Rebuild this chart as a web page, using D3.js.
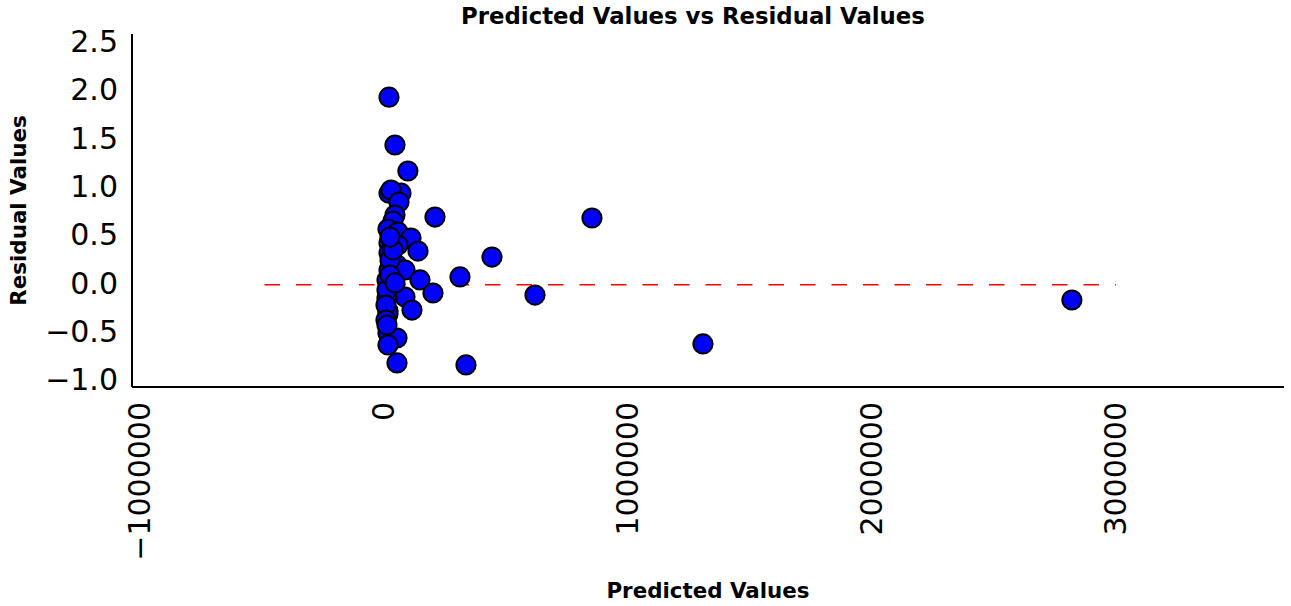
<!DOCTYPE html>
<html>
<head>
<meta charset="utf-8">
<script src="https://cdn.jsdelivr.net/npm/d3@7"></script>
<style>
  html, body { margin: 0; padding: 0; background: #fff; }
  svg { display: block; font-family: "DejaVu Sans", sans-serif; }
</style>
</head>
<body>
<svg id="chart" width="1291" height="606"></svg>
<script>
// ---- data ----
const predicted = [
  20500, 45000, 98000, 20500, 69700, 28700, 61500, 209000, 45000, 36900,
  16400, 57400, 110700, 20500, 57400, 139300, 20500, 53300, 20500, 86100,
  12300, 147500, 311500, 32800, 86100, 200800, 12300, 114800, 16400, 16400,
  16400, 53300, 16400, 53300, 336100, 442600, 618900, 852500, 1307400, 2819700,
  24600, 12300, 8200, 24600, 45000, 36900, 24600, 8200, 12300
];
const residual = [
  1.94, 1.445, 1.176, 0.947, 0.947, 0.979, 0.855, 0.700, 0.721, 0.659,
  0.576, 0.545, 0.483, 0.431, 0.410, 0.348, 0.328, 0.204, 0.152, 0.152,
  0.049, 0.049, 0.080, -0.034, -0.127, -0.086, -0.138, -0.262, -0.272, -0.303,
  -0.499, -0.551, -0.623, -0.809, -0.830, 0.286, -0.107, 0.690, -0.613, -0.158,
  0.255, -0.055, -0.210, 0.100, 0.018, 0.359, 0.493, -0.365, -0.417
];
const xTicks = [-1000000, 0, 1000000, 2000000, 3000000];
const yTicks = [-1.0, -0.5, 0.0, 0.5, 1.0, 1.5, 2.0, 2.5];
const refLine = { y: 0, x0: -490000, x1: 3000000 };
const titleText = "Predicted Values vs Residual Values";
const xLabelText = "Predicted Values";
const yLabelText = "Residual Values";

// ---- layout ----
const svg = d3.select("#chart");
const mLeft = 132, mRight = 1284, mTop = 34, mBottom = 387;

const x = d3.scaleLinear().domain([-1033000, 3689000]).range([mLeft, mRight]);
const y = d3.scaleLinear().domain([-1.058, 2.593]).range([mBottom, mTop]);

const fmtMinus = s => s.replace("-", "\u2212");

// axes (spines only, no tick marks)
const xAxis = d3.axisBottom(x).tickValues(xTicks).tickSize(0).tickPadding(0)
  .tickFormat(d => fmtMinus(d3.format("d")(d)));
const yAxis = d3.axisLeft(y).tickValues(yTicks).tickSize(0).tickPadding(0)
  .tickFormat(d => fmtMinus(d3.format(".1f")(d)));

const gx = svg.append("g").attr("transform", `translate(0,${mBottom})`).call(xAxis);
gx.select(".domain").attr("stroke", "#000").attr("stroke-width", 2)
  .attr("d", `M${mLeft},0H${mRight}`);
gx.selectAll(".tick text")
  .attr("font-size", 30).attr("fill", "#000")
  .attr("font-family", "DejaVu Sans")
  .attr("text-anchor", "end")
  .attr("dominant-baseline", "central")
  .attr("dy", null).attr("y", null)
  .attr("transform", "translate(-1,15) rotate(-90)");

const gy = svg.append("g").attr("transform", `translate(${mLeft},0)`).call(yAxis);
gy.select(".domain").attr("stroke", "#000").attr("stroke-width", 2)
  .attr("d", `M0,${mTop}V${mBottom}`);
gy.selectAll(".tick text")
  .attr("font-size", 30).attr("fill", "#000")
  .attr("font-family", "DejaVu Sans")
  .attr("x", -14).attr("dy", -2)
  .attr("dominant-baseline", "central");

// reference line
svg.append("line")
  .attr("x1", x(refLine.x0)).attr("x2", x(refLine.x1))
  .attr("y1", y(refLine.y)).attr("y2", y(refLine.y))
  .attr("stroke", "#ff0000").attr("stroke-width", 1.5)
  .attr("stroke-dasharray", "15.5,16");

// points
svg.append("g").selectAll("circle")
  .data(predicted.map((p, i) => ({ p, r: residual[i] })))
  .join("circle")
  .attr("cx", d => x(d.p)).attr("cy", d => y(d.r))
  .attr("r", 9.6)
  .attr("fill", "#0000ff").attr("stroke", "#000").attr("stroke-width", 2);

// titles
svg.append("text").attr("x", 693).attr("y", 16)
  .attr("text-anchor", "middle").attr("dominant-baseline", "central")
  .attr("font-weight", "bold").attr("font-size", 22.8).text(titleText);
svg.append("text").attr("x", (mLeft + mRight) / 2).attr("y", 590)
  .attr("text-anchor", "middle").attr("dominant-baseline", "central")
  .attr("font-weight", "bold").attr("font-size", 21.4).text(xLabelText);
svg.append("text").attr("transform", `translate(18,${(mTop + mBottom) / 2}) rotate(-90)`)
  .attr("text-anchor", "middle").attr("dominant-baseline", "central")
  .attr("font-weight", "bold").attr("font-size", 21.4).text(yLabelText);
</script>
</body>
</html>
